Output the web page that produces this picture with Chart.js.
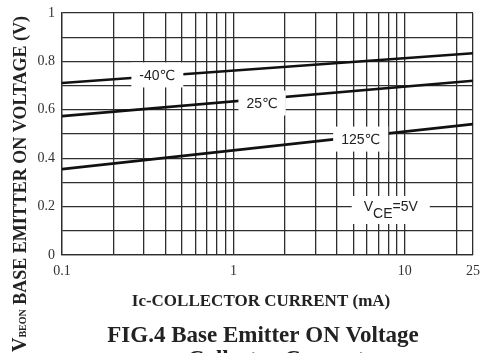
<!DOCTYPE html>
<html>
<head>
<meta charset="utf-8">
<script src="https://cdn.jsdelivr.net/npm/chart.js@4/dist/chart.umd.min.js"></script>
<style>
  html, body { margin: 0; padding: 0; background: #fff; }
  #chart { display: block; }
</style>
</head>
<body>
<canvas id="chart" width="481" height="353"></canvas>
<script>
// Collector current (mA) where each curve is read
const currentPoints = [0.1, 25];
// Base emitter ON voltage (V) per temperature
const vbeMinus40 = [0.711, 0.834];
const vbe25 = [0.574, 0.720];
const vbe125 = [0.355, 0.541];

// Axis ticks
const xGridValues = [0.1, 0.2, 0.3, 0.4, 0.5, 0.6, 0.7, 0.8, 0.9,
                     1, 2, 3, 4, 5, 6, 7, 8, 9, 10, 20, 25];
const xTickLabels = ['0.1', '', '', '', '', '', '', '', '',
                     '1', '', '', '', '', '', '', '', '', '10', '', '25'];
const yGridValues = [0, 0.1, 0.2, 0.3, 0.4, 0.5, 0.6, 0.7, 0.8, 0.9, 1];
const yTickLabels = ['0', '', '0.2', '', '0.4', '', '0.6', '', '0.8', '', '1'];

// Curve labels (placed in data units)
const curveLabels = ['-40℃', '25℃', '125℃'];
const curveLabelX = [0.36, 1.47, 5.53];
const curveLabelY = [0.744, 0.628, 0.479];
const conditionX = 8.28;
const conditionY = 0.186;

const GRID = '#2e2e2e';
const LINE = '#111';
const serif = '"Liberation Serif", "Times New Roman", serif';
const sans = '"Liberation Sans", "DejaVu Sans", sans-serif';

function series(values) {
    return currentPoints.map((x, i) => ({ x: x, y: values[i] }));
}

const labelPlugin = {
    id: 'labels',
    afterDatasetsDraw(chart) {
        const ctx = chart.ctx;
        const xs = chart.scales.x;
        const ys = chart.scales.y;
        ctx.save();
        ctx.font = '14px ' + sans;
        ctx.textBaseline = 'middle';
        ctx.textAlign = 'center';

        curveLabels.forEach((text, i) => {
            const cx = xs.getPixelForValue(curveLabelX[i]);
            const cy = ys.getPixelForValue(curveLabelY[i]);
            const w = ctx.measureText(text).width + 16;
            ctx.fillStyle = '#fff';
            ctx.fillRect(cx - w / 2, cy - 12.5, w, 25);
            ctx.fillStyle = '#222';
            ctx.fillText(text, cx, cy + 1);
        });

        // V_CE=5V condition box
        const cx = xs.getPixelForValue(conditionX);
        const cy = ys.getPixelForValue(conditionY);
        const wV = ctx.measureText('V').width;
        const wCE = ctx.measureText('CE').width;
        const wEq = ctx.measureText('=5V').width;
        const total = wV + wCE + wEq;
        ctx.fillStyle = '#fff';
        ctx.fillRect(cx - total / 2 - 12, cy - 14, total + 24, 28);
        ctx.fillStyle = '#222';
        ctx.textAlign = 'left';
        let x0 = cx - total / 2;
        ctx.fillText('V', x0, cy - 3);
        ctx.fillText('CE', x0 + wV, cy + 4);
        ctx.fillText('=5V', x0 + wV + wCE, cy - 3);
        ctx.restore();
    },
    afterDraw(chart) {
        const ctx = chart.ctx;
        ctx.save();
        ctx.fillStyle = '#222';
        ctx.textBaseline = 'alphabetic';

        // x axis title
        ctx.textAlign = 'center';
        ctx.font = 'bold 17px ' + serif;
        ctx.fillText('Ic-COLLECTOR CURRENT (mA)', 261, 306);

        // figure caption
        ctx.font = 'bold 23px ' + serif;
        ctx.fillText('FIG.4 Base Emitter ON Voltage', 263, 342);
        ctx.fillText('vs Collector Current', 263, 366);

        // y axis title, rotated
        ctx.translate(26, 352);
        ctx.rotate(-Math.PI / 2);
        ctx.textAlign = 'left';
        ctx.font = 'bold 20px ' + serif;
        ctx.fillText('V', 0, 0);
        let off = ctx.measureText('V').width;
        ctx.font = 'bold 10px ' + serif;
        ctx.fillText('BEON', off, 0);
        off += ctx.measureText('BEON').width;
        ctx.font = 'bold 18px ' + serif;
        ctx.fillText(' BASE EMITTER ON VOLTAGE (V)', off, 0);
        ctx.restore();
    }
};

new Chart(document.getElementById('chart'), {
    type: 'line',
    data: {
        datasets: [
            { label: '-40℃', data: series(vbeMinus40) },
            { label: '25℃', data: series(vbe25) },
            { label: '125℃', data: series(vbe125) }
        ]
    },
    options: {
        responsive: false,
        animation: false,
        devicePixelRatio: 1,
        layout: { padding: { left: 0, top: 13, right: 8, bottom: 0 } },
        elements: {
            line: { borderColor: LINE, borderWidth: 2.6, tension: 0 },
            point: { radius: 0 }
        },
        plugins: {
            legend: { display: false },
            tooltip: { enabled: false }
        },
        scales: {
            x: {
                type: 'logarithmic',
                min: 0.1,
                max: 25,
                afterBuildTicks(scale) {
                    scale.ticks = xGridValues.map(v => ({ value: v }));
                },
                afterFit(scale) {
                    scale.height = 98;
                    scale.paddingRight = 0;
                    scale.paddingLeft = 0;
                },
                grid: { color: GRID, lineWidth: 1.3, drawTicks: false },
                border: { color: GRID, width: 1.3 },
                ticks: {
                    autoSkip: false,
                    maxRotation: 0,
                    padding: 8,
                    color: '#333',
                    font: { family: serif, size: 14 },
                    callback(value) {
                        const i = xGridValues.indexOf(value);
                        return i >= 0 ? xTickLabels[i] : '';
                    }
                }
            },
            y: {
                min: 0,
                max: 1,
                afterBuildTicks(scale) {
                    scale.ticks = yGridValues.map(v => ({ value: v }));
                },
                afterFit(scale) {
                    scale.width = 62;
                    scale.paddingTop = 0;
                    scale.paddingBottom = 0;
                },
                grid: { color: GRID, lineWidth: 1.3, drawTicks: false },
                border: { color: GRID, width: 1.3 },
                ticks: {
                    autoSkip: false,
                    padding: 7,
                    color: '#333',
                    font: { family: serif, size: 14 },
                    callback(value, index) {
                        return yTickLabels[index];
                    }
                }
            }
        }
    },
    plugins: [labelPlugin]
});
</script>
</body>
</html>
